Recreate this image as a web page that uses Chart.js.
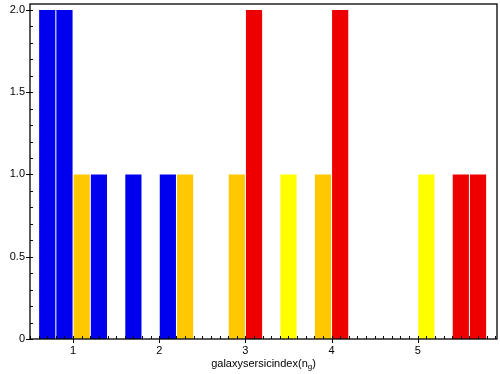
<!DOCTYPE html>
<html>
<head>
<meta charset="utf-8">
<script src="https://cdn.jsdelivr.net/npm/chart.js@4/dist/chart.umd.min.js"></script>
<style>
  html, body { margin: 0; padding: 0; background: #fff; }
  #wrap { width: 500px; height: 374px; }
</style>
</head>
<body>
<div id="wrap"><canvas id="myChart" width="500" height="374"></canvas></div>
<script>
// bin centres (bin width 0.2) and counts, one list per colour group
const blueBins = [0.7, 0.9, 1.3, 1.7, 2.1];
const blueCounts = [2, 2, 1, 1, 1];
const orangeBins = [1.1, 2.3, 2.9, 3.9];
const orangeCounts = [1, 1, 1, 1];
const yellowBins = [3.5, 5.1];
const yellowCounts = [1, 1];
const redBins = [3.1, 4.1, 5.5, 5.7];
const redCounts = [2, 2, 1, 1];

const xLabel = 'galaxysersicindex(n';
const xLabelSub = 'g';

const FONT = '"Liberation Sans", Arial, sans-serif';

function pts(bins, counts) {
  return bins.map((b, i) => ({ x: b, y: counts[i] }));
}

function isStep(v, step) {
  const r = v / step;
  return Math.abs(r - Math.round(r)) < 1e-6;
}

// frame, minor/major tick marks, and the x title with subscript
const framePlugin = {
  id: 'frame',
  afterDraw(chart) {
    const ctx = chart.ctx;
    const a = chart.chartArea;
    const xs = chart.scales.x, ys = chart.scales.y;
    ctx.save();
    ctx.strokeStyle = '#000';
    ctx.lineWidth = 1;
    ctx.beginPath();
    for (let i = Math.ceil(xs.min * 10); i <= Math.floor(xs.max * 10); i++) {
      const px = Math.round(xs.getPixelForValue(i / 10)) + 0.5;
      const major = i % 10 === 0;
      ctx.moveTo(px, a.bottom - 3);
      ctx.lineTo(px, a.bottom + (major ? 4 : 0));
    }
    for (let i = Math.ceil(ys.min * 10); i <= Math.floor(ys.max * 10); i++) {
      const py = Math.round(ys.getPixelForValue(i / 10)) + 0.5;
      const major = i % 5 === 0;
      ctx.moveTo(a.left + 3, py);
      ctx.lineTo(a.left - (major ? 4 : 0), py);
    }
    ctx.stroke();
    ctx.lineWidth = 1.3;
    ctx.strokeRect(a.left, a.top, a.right - a.left, a.bottom - a.top);

    // title
    ctx.fillStyle = '#000';
    ctx.textBaseline = 'alphabetic';
    ctx.font = '11px ' + FONT;
    const w1 = ctx.measureText(xLabel).width;
    ctx.font = '8px ' + FONT;
    const w2 = ctx.measureText(xLabelSub).width;
    ctx.font = '11px ' + FONT;
    const w3 = ctx.measureText(')').width;
    const total = w1 + w2 + w3;
    let x0 = (a.left + a.right) / 2 - total / 2;
    const base = 367;
    ctx.textAlign = 'left';
    ctx.fillText(xLabel, x0, base);
    ctx.font = '8px ' + FONT;
    ctx.fillText(xLabelSub, x0 + w1, base + 2);
    ctx.font = '11px ' + FONT;
    ctx.fillText(')', x0 + w1 + w2, base);
    ctx.restore();
  }
};

const barOpts = { borderWidth: 0, barPercentage: 0.94, categoryPercentage: 1, grouped: false };

const config = {
  type: 'bar',
  data: {
    datasets: [
      Object.assign({ data: pts(blueBins, blueCounts), backgroundColor: '#0000ee' }, barOpts),
      Object.assign({ data: pts(orangeBins, orangeCounts), backgroundColor: '#ffc800' }, barOpts),
      Object.assign({ data: pts(yellowBins, yellowCounts), backgroundColor: '#ffff00' }, barOpts),
      Object.assign({ data: pts(redBins, redCounts), backgroundColor: '#ee0000' }, barOpts)
    ]
  },
  options: {
    responsive: false,
    animation: false,
    layout: { padding: { left: 0, right: 3, top: 4, bottom: 0 } },
    plugins: { legend: { display: false }, tooltip: { enabled: false } },
    scales: {
      x: {
        type: 'linear',
        min: 0.5,
        max: 5.92,
        offset: false,
        grid: { display: false, drawTicks: false },
        border: { display: false },
        afterFit(scale) { scale.height = 35; scale.paddingLeft = 0; scale.paddingRight = 0; },
        ticks: {
          stepSize: 1,
          includeBounds: false,
          autoSkip: false,
          maxRotation: 0,
          padding: 5,
          color: '#000',
          font: { family: FONT, size: 11 },
          callback: v => isStep(v, 1) ? String(Math.round(v)) : ''
        }
      },
      y: {
        min: 0,
        max: 2.036,
        grid: { display: false, drawTicks: false },
        border: { display: false },
        afterFit(scale) { scale.width = 30; scale.paddingTop = 0; scale.paddingBottom = 0; },
        ticks: {
          stepSize: 0.5,
          includeBounds: false,
          autoSkip: false,
          padding: 5,
          color: '#000',
          font: { family: FONT, size: 11 },
          callback: v => {
            if (!isStep(v, 0.5)) return '';
            return Math.abs(v) < 1e-9 ? '0' : v.toFixed(1);
          }
        }
      }
    }
  },
  plugins: [framePlugin]
};

let ctx = document.getElementById('myChart').getContext('2d');
let myChart = new Chart(ctx, config);
</script>
</body>
</html>
